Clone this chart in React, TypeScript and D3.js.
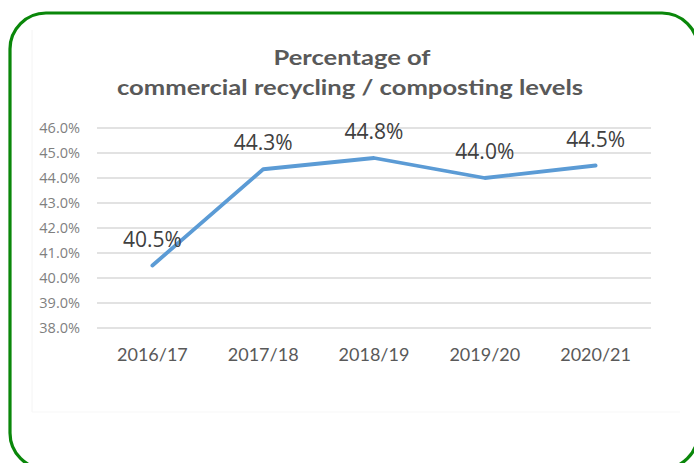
import React from "react";
import * as d3 from "d3";

const categories = ["2016/17", "2017/18", "2018/19", "2019/20", "2020/21"];
const values = [40.5, 44.35, 44.8, 44.0, 44.5];
const valueLabels = ["40.5%", "44.3%", "44.8%", "44.0%", "44.5%"];
const yTicks = [38, 39, 40, 41, 42, 43, 44, 45, 46];
const titleLines = ["Percentage of", "commercial recycling / composting levels"];

const W = 694;
const H = 463;

export default function App() {
  const x = d3.scaleBand<string>().domain(categories).range([97, 651]);
  const y = d3.scaleLinear().domain([38, 46]).range([328, 128]);
  const line = d3
    .line<number>()
    .x((_, i) => (x(categories[i]) as number) + x.bandwidth() / 2)
    .y((d) => y(d));

  return (
    <svg
      width={W}
      height={H}
      style={{ position: "absolute", left: 0, top: 0, background: "#fff" }}
    >
      <rect
        x={10}
        y={13}
        width={688}
        height={456}
        rx={36}
        ry={36}
        fill="#fff"
        stroke="#0a870a"
        strokeWidth={3.2}
      />
      <line x1={32} y1={30} x2={32} y2={412} stroke="#f4f4f4" strokeWidth={1} />
      <line x1={32} y1={412} x2={680} y2={412} stroke="#f7f7f7" strokeWidth={1} />
      <g fontFamily="Lato, 'Open Sans', sans-serif" fontWeight={700} fill="#595959" textAnchor="middle">
        <text x={352} y={65} fontSize={21} textLength={157} lengthAdjust="spacingAndGlyphs">
          {titleLines[0]}
        </text>
        <text x={350} y={95} fontSize={21} textLength={466} lengthAdjust="spacingAndGlyphs">
          {titleLines[1]}
        </text>
      </g>
      <g>
        {yTicks.map((t) => (
          <g key={t}>
            <line x1={97} x2={651} y1={y(t)} y2={y(t)} stroke="#d9d9d9" strokeWidth={1.3} />
            <text
              x={80}
              y={y(t)}
              dy="0.35em"
              textAnchor="end"
              fontFamily="'Open Sans', sans-serif"
              fontSize={14.5}
              fill="#7f7f7f"
            >
              {t.toFixed(1) + "%"}
            </text>
          </g>
        ))}
      </g>
      <g>
        {categories.map((c) => (
          <text
            key={c}
            x={(x(c) as number) + x.bandwidth() / 2}
            y={361}
            textAnchor="middle"
            fontFamily="Lato, sans-serif"
            fontSize={18}
            fill="#595959"
          >
            {c}
          </text>
        ))}
      </g>
      <path
        d={line(values) || ""}
        fill="none"
        stroke="#5b9bd5"
        strokeWidth={3.8}
        strokeLinejoin="round"
        strokeLinecap="round"
      />
      <g>
        {values.map((v, i) => (
          <text
            key={i}
            x={(x(categories[i]) as number) + x.bandwidth() / 2}
            y={y(v) - 19}
            textAnchor="middle"
            fontFamily="'Open Sans', sans-serif"
            fontSize={21}
            fill="#404040"
          >
            {valueLabels[i]}
          </text>
        ))}
      </g>
    </svg>
  );
}
